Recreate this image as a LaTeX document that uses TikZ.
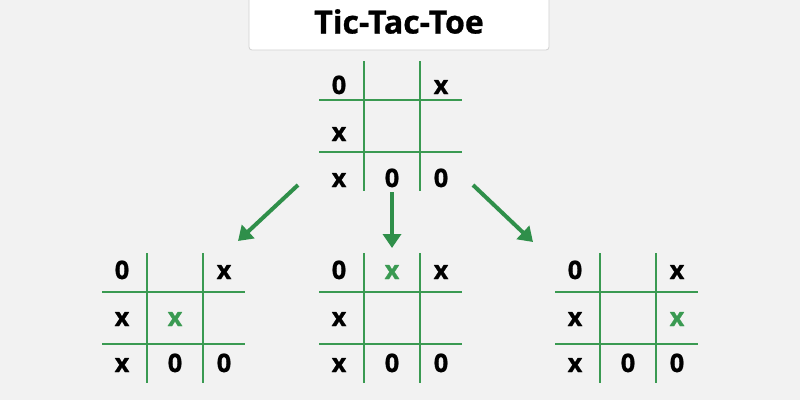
\documentclass[tikz,border=0pt]{standalone}
\usepackage{fontspec}
\setmainfont{Open Sans}[BoldFeatures={FakeBold=0.8}]
\usetikzlibrary{arrows.meta}
\definecolor{bgcol}{HTML}{F2F2F2}
\definecolor{tgreen}{HTML}{2F8F4A}
\definecolor{lgreen}{HTML}{3A9A52}
\begin{document}
\begin{tikzpicture}[x=1pt,y=-1pt,
  gridline/.style={draw=lgreen, line width=1.8pt},
  cell/.style={anchor=base, inner sep=0pt, font=\fontsize{25.5}{25.5}\selectfont\bfseries},
  newmove/.style={cell, text=lgreen},
  branch/.style={draw=tgreen, line width=4pt, -{Triangle[length=14pt,width=18pt]}}]
\useasboundingbox (0,0) rectangle (800,400);
\fill[bgcol] (0,0) rectangle (800,400);
\node[fill=white, draw=black!18, line width=0.8pt, rounded corners=3pt, minimum width=300pt, minimum height=57pt, inner sep=0pt,
  font=\fontsize{32}{32}\selectfont\bfseries] (title) at (399,21.5) {Tic-Tac-Toe};
% boards: name / x of first vertical line / y of first horizontal line / baseline of first row
\foreach \b/\bx/\by/\ry in {r/364/100/-6, a/147/292/-13, b/364/292/-13, c/600/292/-13}{
  \draw[gridline] (\bx,\by-39)--(\bx,\by+91) (\bx+56,\by-39)--(\bx+56,\by+91)
    (\bx-45,\by)--(\bx+98,\by) (\bx-45,\by+52)--(\bx+98,\by+52);
  \foreach \n/\cx/\cy/\t in {11/-25/0/0, 13/77/0/x, 21/-25/47/x, 31/-25/93/x, 32/28/93/0, 33/77/93/0}
    \node[cell] (\b\n) at (\bx+\cx,\by+\ry+\cy) {\t};
}
\node[newmove] (a22) at (147+28,292-13+47) {x};
\node[newmove] (b12) at (364+28,292-13) {x};
\node[newmove] (c23) at (600+77,292-13+47) {x};
\coordinate (ra) at (298,185); \coordinate (at) at (238,241);
\coordinate (rb) at (392,192); \coordinate (bt) at (392,248);
\coordinate (rc) at (473,185); \coordinate (ct) at (533,242);
\draw[branch] (ra)--(at);
\draw[branch] (rb)--(bt);
\draw[branch] (rc)--(ct);
\end{tikzpicture}
\end{document}
